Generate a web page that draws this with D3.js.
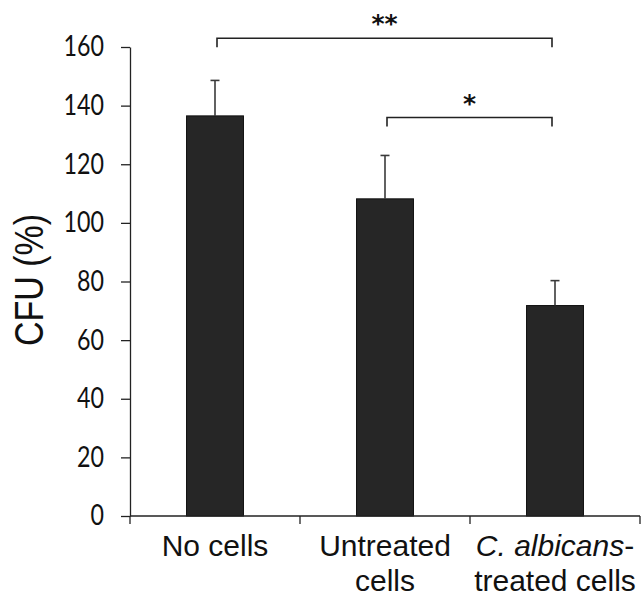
<!DOCTYPE html>
<html><head><meta charset="utf-8">
<script src="https://cdn.jsdelivr.net/npm/d3@7"></script>
<style>body{margin:0;background:#fff}</style>
</head><body>
<svg id="c" width="642" height="598"></svg>
<script>
const categories = ["No cells", "Untreated cells", "C. albicans-treated cells"];
const values = [136.5, 108.2, 71.8];
const errors = [12.1, 14.8, 8.5];
const yTicks = [0, 20, 40, 60, 80, 100, 120, 140, 160];
const brackets = [
  {from: 0, to: 2, label: "**", level: 0},
  {from: 1, to: 2, label: "*", level: 1}
];

const svg = d3.select("#c");
const x = d3.scaleBand().domain(categories).range([130, 640]).paddingInner(0.665).paddingOuter(0.3325);
const y = d3.scaleLinear().domain([0, 160]).range([516, 47]);

// bars
svg.selectAll("rect.bar").data(values).enter().append("rect")
  .attr("x", (d,i) => x(categories[i]))
  .attr("width", x.bandwidth())
  .attr("y", d => y(d))
  .attr("height", d => y(0) - y(d))
  .attr("fill", "#262626").attr("stroke", "#111").attr("stroke-width", 1);

// error bars
const eb = svg.append("g").attr("stroke", "#3a3a3a").attr("stroke-width", 1.6);
values.forEach((v,i) => {
  const cx = x(categories[i]) + x.bandwidth()/2;
  eb.append("line").attr("x1", cx).attr("x2", cx).attr("y1", y(v)).attr("y2", y(v+errors[i]));
  eb.append("line").attr("x1", cx-4.5).attr("x2", cx+4.5).attr("y1", y(v+errors[i])).attr("y2", y(v+errors[i]));
});

// y axis
const sx = 0.83;
const yAxis = d3.axisLeft(y).tickValues(yTicks).tickSize(9).tickSizeOuter(0).tickPadding(17);
const gy = svg.append("g").attr("transform", "translate(130,0)").call(yAxis);
gy.select(".domain").attr("stroke", "#222").attr("stroke-width", 1.3);
gy.selectAll(".tick line").attr("stroke", "#222").attr("stroke-width", 1.3);
gy.selectAll(".tick text").attr("font-family", "Lato, sans-serif").attr("font-size", 28).attr("fill", "#111")
  .attr("transform", `scale(${sx},1)`).attr("x", -26 / sx);

// x axis
const xEdges = [130, 300, 470, 640];
const gx = svg.append("g");
gx.append("line").attr("x1", 130).attr("x2", 640).attr("y1", y(0)).attr("y2", y(0)).attr("stroke", "#222").attr("stroke-width", 1.3);
xEdges.forEach(e => gx.append("line").attr("x1", e).attr("x2", e).attr("y1", y(0)).attr("y2", y(0)+8).attr("stroke", "#222").attr("stroke-width", 1.3));

// x labels
const lab = svg.append("g").attr("font-family", "'Liberation Sans', Arial, sans-serif").attr("font-size", 30).attr("fill", "#111").attr("text-anchor", "middle");
const c0 = x(categories[0]) + x.bandwidth()/2, c1 = x(categories[1]) + x.bandwidth()/2, c2 = x(categories[2]) + x.bandwidth()/2;
lab.append("text").attr("x", c0).attr("y", 556).text("No cells");
lab.append("text").attr("x", c1).attr("y", 556).text("Untreated");
lab.append("text").attr("x", c1).attr("y", 591).text("cells");
const t3 = lab.append("text").attr("x", c2).attr("y", 556);
t3.append("tspan").attr("font-style", "italic").text("C. albicans");
t3.append("tspan").text("-");
lab.append("text").attr("x", c2).attr("y", 591).text("treated cells");

// y label
svg.append("text").attr("transform", "translate(43,280) rotate(-90) scale(0.85,1)").attr("text-anchor", "middle")
  .attr("font-family", "'Liberation Sans', Arial, sans-serif").attr("font-size", 40).attr("fill", "#111").text("CFU (%)");

// significance brackets
const bY = [38.3, 117.5];
const bg = svg.append("g");
brackets.forEach(b => {
  const xa = x(categories[b.from]) + x.bandwidth()/2 + 2;
  const xb = x(categories[b.to]) + x.bandwidth()/2 - 3;
  const yy = bY[b.level];
  bg.append("path").attr("d", `M${xa},${yy+9}V${yy}H${xb}V${yy+9}`).attr("fill", "none").attr("stroke", "#222").attr("stroke-width", 1.6);
  bg.append("text").attr("x", (xa+xb)/2).attr("y", yy - 6).attr("text-anchor", "middle")
    .attr("font-family", "'DejaVu Sans', sans-serif").attr("font-size", 25).attr("font-weight", "bold").attr("fill", "#111").text(b.label);
});
</script>
</body></html>
